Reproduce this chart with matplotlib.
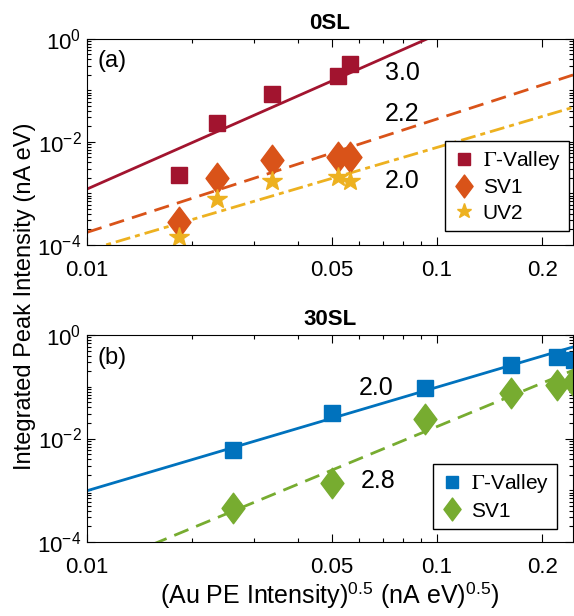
import matplotlib
matplotlib.use("Agg")
import matplotlib.pyplot as plt
from matplotlib.path import Path
import numpy as np
from matplotlib.ticker import LogLocator, NullFormatter, FixedLocator, FixedFormatter

plt.rcParams['font.family'] = ['Liberation Sans', 'DejaVu Sans']
plt.rcParams['mathtext.fontset'] = 'stix'

# 0SL data
x_0sl = [0.0183, 0.0236, 0.0338, 0.052, 0.0565]
gamma_0sl = [2.3e-3, 0.023, 0.084, 0.19, 0.33]
sv1_0sl = [2.8e-4, 2.0e-3, 4.5e-3, 5.0e-3, 5.0e-3]
uv2_0sl = [1.4e-4, 7.8e-4, 1.75e-3, 2.06e-3, 1.75e-3]

# fits: prefactor and exponent
fit_gamma_0sl = (1219.0, 3.0)
fit_sv1_0sl = (4.42, 2.2)
fit_uv2_0sl = (0.783, 2.0)

# 30SL data
x_30sl = [0.0262, 0.0503, 0.0925, 0.163, 0.22, 0.247]
gamma_30sl = [6.0e-3, 0.0307, 0.096, 0.263, 0.37, 0.33]
sv1_30sl = [4.5e-4, 1.36e-3, 0.0236, 0.075, 0.108, 0.125]

fit_gamma_30sl = (9.8, 2.0)
fit_sv1_30sl = (10.7, 2.8)

c_red = '#A2142F'
c_orange = '#D95319'
c_yellow = '#EDB120'
c_blue = '#0072BD'
c_green = '#77AC30'

# diamond a bit wider than matplotlib's thin diamond
diamond = Path([(0, 1), (0.75, 0), (0, -1), (-0.75, 0), (0, 1)],
               [Path.MOVETO, Path.LINETO, Path.LINETO, Path.LINETO, Path.CLOSEPOLY])

xmin, xmax = 0.01, 0.245
xfit = np.logspace(np.log10(xmin), np.log10(xmax), 200)

W, H = 574, 616
fig = plt.figure(figsize=(W / 100, H / 100), dpi=100)
ax1 = fig.add_axes([0.1516, 0.6023, 0.8467, 0.3344])
ax2 = fig.add_axes([0.1516, 0.1201, 0.8467, 0.336])


def px_text(x, y, s, **kw):
    # position given in pixels from the top-left corner
    fig.text(x / W, 1 - y / H, s, ha='center', va='center', **kw)


def style_axis(ax):
    ax.set_xscale('log')
    ax.set_yscale('log')
    ax.set_xlim(xmin, xmax)
    ax.set_ylim(1e-4, 1)
    ax.xaxis.set_major_locator(FixedLocator([0.01, 0.05, 0.1, 0.2]))
    ax.xaxis.set_major_formatter(FixedFormatter(['0.01', '0.05', '0.1', '0.2']))
    ax.xaxis.set_minor_locator(LogLocator(base=10, subs=np.arange(1, 10), numticks=20))
    ax.xaxis.set_minor_formatter(NullFormatter())
    ax.yaxis.set_major_locator(FixedLocator([1e-4, 1e-2, 1]))
    ax.yaxis.set_minor_locator(LogLocator(base=10, subs=np.arange(1, 10), numticks=20))
    ax.yaxis.set_minor_formatter(NullFormatter())
    ax.tick_params(which='both', direction='in', top=True, right=True, labelsize=16, width=0.8)
    ax.tick_params(which='major', length=6)
    ax.tick_params(which='minor', length=3)
    ax.tick_params(axis='x', which='major', pad=11)
    ax.tick_params(axis='y', which='major', pad=4)
    for s in ax.spines.values():
        s.set_linewidth(0.8)


leg_kw = dict(loc='lower right', fontsize=15, fancybox=False, edgecolor='black',
              framealpha=1, handlelength=1.0, handletextpad=0.4, markerscale=0.75,
              labelspacing=0.3, borderpad=0.4, borderaxespad=0)

# panel (a)
ax1.plot(xfit, fit_gamma_0sl[0] * xfit ** fit_gamma_0sl[1], color=c_red, lw=2)
ax1.plot(xfit, fit_sv1_0sl[0] * xfit ** fit_sv1_0sl[1], color=c_orange, lw=2, dashes=(5.5, 3))
ax1.plot(xfit, fit_uv2_0sl[0] * xfit ** fit_uv2_0sl[1], color=c_yellow, lw=2,
         dashes=(5.4, 1.8, 1.8, 1.8))
ax1.plot(x_0sl, gamma_0sl, 's', color=c_red, ms=11, label=r'$\mathrm{\Gamma}$-Valley')
ax1.plot(x_0sl, sv1_0sl, marker=diamond, ls='none', color=c_orange, ms=22, label='SV1')
ax1.plot(x_0sl, uv2_0sl, '*', color=c_yellow, ms=15, label='UV2')
style_axis(ax1)
ax1.set_title('0SL', fontsize=16, fontweight='bold', pad=7)
ax1.legend(bbox_to_anchor=(0.992, 0.068), **leg_kw)
px_text(112, 61, '(a)', fontsize=17)
px_text(402, 73, '3.0', fontsize=18)
px_text(402, 114, '2.2', fontsize=18)
px_text(402, 181, '2.0', fontsize=18)

# panel (b)
ax2.plot(xfit, fit_gamma_30sl[0] * xfit ** fit_gamma_30sl[1], color=c_blue, lw=2)
ax2.plot(xfit, fit_sv1_30sl[0] * xfit ** fit_sv1_30sl[1], color=c_green, lw=2, dashes=(5.5, 3))
ax2.plot(x_30sl, gamma_30sl, 's', color=c_blue, ms=11, label=r'$\mathrm{\Gamma}$-Valley')
ax2.plot(x_30sl, sv1_30sl, marker=diamond, ls='none', color=c_green, ms=22, label='SV1')
style_axis(ax2)
ax2.set_title('30SL', fontsize=16, fontweight='bold', pad=7)
ax2.legend(bbox_to_anchor=(0.967, 0.063), **leg_kw)
ax2.set_xlabel(r'(Au PE Intensity)$^{\mathdefault{0.5}}$ (nA eV)$^{\mathdefault{0.5}}$)',
               fontsize=18, labelpad=2)
px_text(112, 358, '(b)', fontsize=17)
px_text(376, 388, '2.0', fontsize=18)
px_text(378, 481, '2.8', fontsize=18)

px_text(25, 296, 'Integrated Peak Intensity (nA eV)', rotation=90, fontsize=17)

fig.savefig('out.png', dpi=100)
